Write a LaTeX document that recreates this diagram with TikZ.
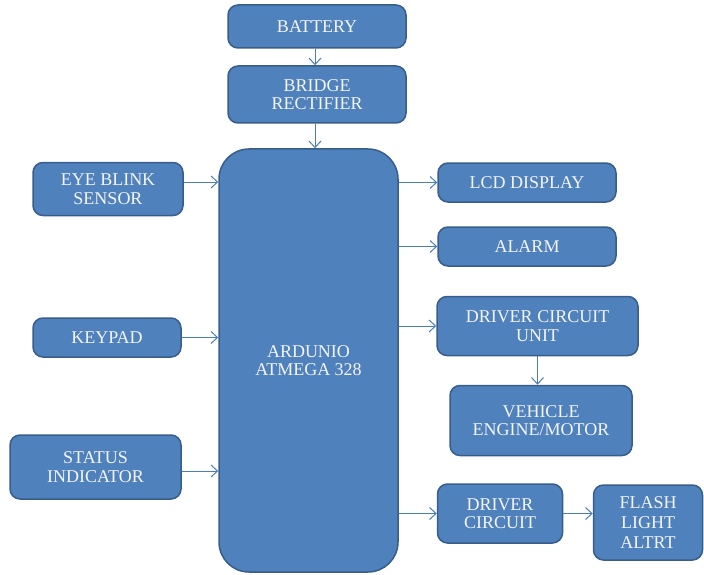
\documentclass[tikz,border=0pt]{standalone}
\usepackage{fontspec}
\setmainfont{Liberation Serif}
\usetikzlibrary{arrows.meta}
\definecolor{boxfill}{HTML}{4F81BD}
\definecolor{boxline}{HTML}{385D8A}
\definecolor{arrowc}{HTML}{4A7EBB}
\definecolor{txt}{HTML}{F4F4F4}
\tikzset{
  blk/.style={draw=boxline, line width=1.5pt, fill=boxfill, rounded corners=10pt,
    text=txt, align=center, inner sep=2pt,
    font=\fontsize{18}{18.5}\selectfont},
  conn/.style={draw=arrowc, line width=1pt, -{Straight Barb[length=6.5pt,width=12pt,line width=1pt]}}
}
\begin{document}
\begin{tikzpicture}[x=1pt,y=-1pt]
\useasboundingbox (0,0) rectangle (704,575);
\node[blk, minimum width=178pt, minimum height=43pt] (bat) at (317,26.5) {BATTERY};
\node[blk, minimum width=178pt, minimum height=57pt] (bri) at (317,94.5) {BRIDGE\\RECTIFIER};
\node[blk, rounded corners=30pt, minimum width=179pt, minimum height=423pt] (ard) at (308.5,360.5) {ARDUNIO\\ATMEGA 328};
\node[blk, minimum width=150pt, minimum height=53pt] (eye) at (108,189) {EYE BLINK\\SENSOR};
\node[blk, minimum width=148pt, minimum height=39pt] (key) at (107,337.5) {KEYPAD};
\node[blk, minimum width=171pt, minimum height=64pt] (sta) at (95.5,467) {STATUS\\INDICATOR};
\node[blk, minimum width=178pt, minimum height=39pt] (lcd) at (527,182.5) {LCD DISPLAY};
\node[blk, minimum width=178pt, minimum height=39pt] (alm) at (527,246.5) {ALARM};
\node[blk, minimum width=201pt, minimum height=59pt] (dcu) at (537.5,326) {DRIVER CIRCUIT\\UNIT};
\node[blk, minimum width=182pt, minimum height=70pt] (veh) at (541,420.5) {VEHICLE\\ENGINE/MOTOR};
\node[blk, minimum width=125pt, minimum height=59pt] (drc) at (500,513.5) {DRIVER\\CIRCUIT};
\node[blk, minimum width=109pt, minimum height=75pt, font=\fontsize{18}{20}\selectfont] (fla) at (648,522.5) {FLASH\\LIGHT\\ALTRT};

\coordinate (batout) at ([xshift=-2pt]bat.south);
\coordinate (briout) at ([xshift=-2pt]bri.south);
\coordinate (eyeout) at ([yshift=7pt]eye.east);
\coordinate (staout) at ([yshift=-4pt]sta.east);
\draw[conn] (batout) -- (batout |- bri.north);
\draw[conn] (briout) -- (briout |- ard.north);
\draw[conn] (eyeout) -- (ard.west |- eyeout);
\draw[conn] (key.east) -- (ard.west |- key.east);
\draw[conn] (staout) -- (ard.west |- staout);
\draw[conn] (ard.east |- lcd.west) -- (lcd.west);
\draw[conn] (ard.east |- alm.west) -- (alm.west);
\draw[conn] (ard.east |- dcu.west) -- (dcu.west);
\draw[conn] (dcu.south) -- (dcu.south |- veh.north);
\draw[conn] (ard.east |- drc.west) -- (drc.west);
\draw[conn] (drc.east) -- (fla.west |- drc.east);
\end{tikzpicture}
\end{document}
